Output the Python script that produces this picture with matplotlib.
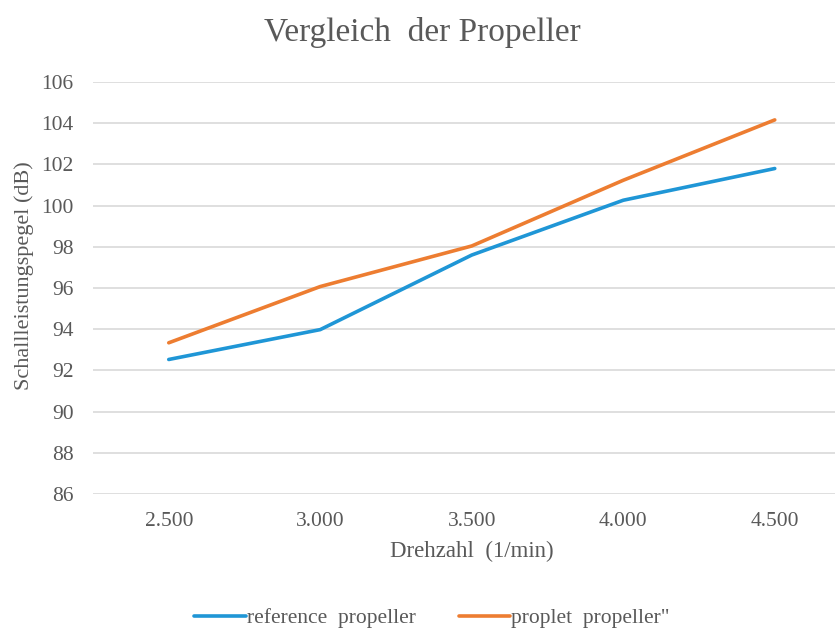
import matplotlib.pyplot as plt

# data
drehzahl = ['2.500', '3.000', '3.500', '4.000', '4.500']
reference = [92.53, 93.98, 97.6, 100.26, 101.8]
proplet = [93.34, 96.07, 98.04, 101.23, 104.16]
y_ticks = [86, 88, 90, 92, 94, 96, 98, 100, 102, 104, 106]

plt.rcParams['font.family'] = ['Liberation Serif', 'DejaVu Serif']
grey = '#595959'

fig = plt.figure(figsize=(8.35, 6.32), dpi=100)
# plot area: left edge ~93px, category spacing ~151px, runs off the right edge
ax = fig.add_axes([93 / 835, 1 - 494 / 632, (835 - 93) / 835, (494 - 82) / 632])

x = list(range(len(drehzahl)))
ax.plot(x, reference, color='#1f96d6', lw=2.6, label='reference  propeller', solid_capstyle='round')
ax.plot(x, proplet, color='#ed7d31', lw=2.6, label='proplet  propeller"', solid_capstyle='round')

ax.set_xlim(-0.5, -0.5 + (835 - 93) / 151.5)
ax.set_ylim(86, 106)
ax.set_yticks(y_ticks)
ax.set_xticks(x)
ax.set_xticklabels(drehzahl)
ax.yaxis.grid(True, color='#d9d9d9', lw=1.2)
ax.set_axisbelow(True)
for s in ax.spines.values():
    s.set_visible(False)
ax.tick_params(length=0, labelsize=15.5, colors=grey)
ax.tick_params(axis='y', pad=14)
ax.tick_params(axis='x', pad=13)

ax.set_xlabel('Drehzahl  (1/min)', fontsize=16.5, color=grey)
ax.xaxis.set_label_coords((472 - 93) / (835 - 93), -(541 - 494) / (494 - 82))

fig.text(24 / 835, 1 - 276 / 632, 'Schallleistungspegel (dB)', rotation=90,
         ha='center', va='center', fontsize=16, color=grey)

fig.text(422 / 835, 1 - 33 / 632, 'Vergleich  der Propeller', ha='center', va='center',
         fontsize=24, color=grey)

fig.legend(loc='center', bbox_to_anchor=(432 / 835, 1 - 618 / 632), ncol=2, frameon=False,
           fontsize=15.5, labelcolor=grey, handlelength=2.4, handletextpad=0.05, columnspacing=2.0)

fig.savefig('out.png', dpi=100)
